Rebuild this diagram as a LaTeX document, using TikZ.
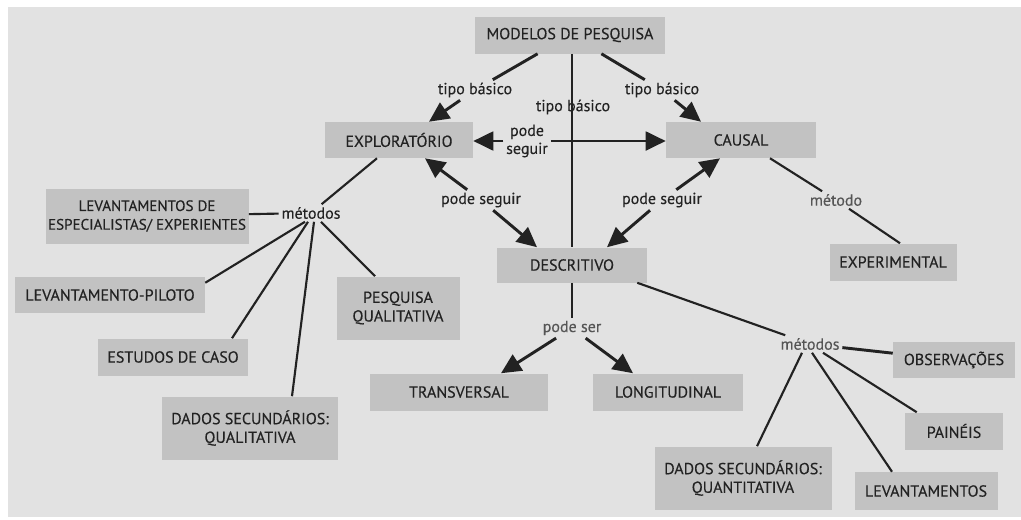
\documentclass[tikz,border=0pt]{standalone}
\usepackage{fontspec}
\setmainfont[FakeBold=0.3]{PT Sans}
\usetikzlibrary{arrows.meta,calc}
\definecolor{page}{HTML}{E2E2E2}
\definecolor{boxfill}{HTML}{C2C2C2}
\definecolor{ink}{HTML}{222222}
\definecolor{softink}{HTML}{555555}

\begin{document}
\begin{tikzpicture}[x=0.75pt,y=-0.75pt,
  concept/.style n args={2}{fill=boxfill, text=ink, align=center, inner sep=0pt,
    minimum width=#1*0.75pt, minimum height=#2*0.75pt,
    font=\fontsize{12}{14}\selectfont},
  linklabel/.style={text=ink, align=center, inner sep=2pt, font=\fontsize{12}{13.5}\selectfont},
  softlabel/.style={linklabel, text=softink},
  link/.style={draw=ink, line width=1.6pt},
  heavylink/.style={draw=ink, line width=2.2pt},
  arrowlink/.style={draw=ink, line width=2.2pt, -{Triangle[length=15pt,width=14pt]}},
]
% page
\fill[white] (0,0) rectangle (1021,519);
\fill[page] (8,7) rectangle (1021,517);
\useasboundingbox (0,0) rectangle (1021,519);

% concepts
\node[concept={190}{37}] (mod) at (570,35) {MODELOS DE PESQUISA};
\node[concept={148}{36}] (exp) at (399,140) {EXPLORATÓRIO};
\node[concept={150}{36}] (cau) at (741,140) {CAUSAL};
\node[concept={150}{35}] (des) at (572,265) {DESCRITIVO};
\node[concept={127}{37}] (expm) at (893,262) {EXPERIMENTAL};
\node[concept={203}{55}, font=\fontsize{11.3}{14}\selectfont] (lesp) at (147,216) {LEVANTAMENTOS DE\\ESPECIALISTAS/ EXPERIENTES};
\node[concept={190}{36}] (lpil) at (110,295) {LEVANTAMENTO-PILOTO};
\node[concept={150}{37}] (est) at (173,357) {ESTUDOS DE CASO};
\node[concept={176}{63}] (dsq) at (250,428) {DADOS SECUNDÁRIOS:\\QUALITATIVA};
\node[concept={123}{63}] (pq) at (398,308) {PESQUISA\\QUALITATIVA};
\node[concept={178}{37}] (tra) at (459,392) {TRANSVERSAL};
\node[concept={150}{37}] (lon) at (668,392) {LONGITUDINAL};
\node[concept={122}{36}] (obs) at (954,360) {OBSERVAÇÕES};
\node[concept={98}{37}] (pai) at (954,431) {PAINÉIS};
\node[concept={177}{63}] (dsqt) at (743,478) {DADOS SECUNDÁRIOS:\\QUANTITATIVA};
\node[concept={143}{38}] (lev) at (926,491) {LEVANTAMENTOS};

% linking phrases
\node[linklabel] (l1) at (475,90) {tipo básico};
\node[linklabel] (l2) at (573,107) {tipo básico};
\node[linklabel] (l3) at (662,90) {tipo básico};
\node[linklabel] (l4) at (527,141) {pode\\seguir};
\node[linklabel] (l5) at (481,200) {pode seguir};
\node[linklabel] (l6) at (662,200) {pode seguir};
\node[softlabel] (l7) at (836,200) {método};
\node[linklabel] (m1) at (311,213) {métodos};
\node[softlabel] (l8) at (572,328) {pode ser};
\node[softlabel] (m2) at (810,344) {métodos};

% basic types
\draw[heavylink] (mod) -- (l1);
\draw[arrowlink] (l1) -- ($(exp.north)+(30,0)$);
\draw[heavylink] (mod) -- (l3);
\draw[arrowlink] (l3) -- ($(cau.north)+(-40,0)$);
\draw[heavylink] (mod.south -| des.north) -- (des.north);

% sequences between designs
\draw[arrowlink] (l4) -- (l4 -| exp.east);
\draw[arrowlink] (l4) -- (l4 -| cau.west);
\draw[arrowlink] (l5) -- ($(exp.south)+(26,0)$);
\draw[arrowlink] (l5) -- ($(des.north)+(-35,0)$);
\draw[arrowlink] (l6) -- ($(cau.south)+(-21,0)$);
\draw[arrowlink] (l6) -- ($(des.north)+(35,0)$);

% causal method
\draw[link] ($(cau.south)+(29,0)$) -- (l7);
\draw[link] (l7) -- ($(expm.north)+(7,0)$);

% exploratory methods
\draw[link] ($(exp.south)+(-22,0)$) -- (m1);
\draw[link] (m1) -- (lesp);
\draw[link] ($(m1.south)+(-6,0)$) -- ($(lpil.north east)+(0,6)$);
\draw[link] ($(m1.south)+(-3,0)$) -- ($(est.north)+(59,0)$);
\draw[link] ($(m1.south)+(3,0)$) -- ($(dsq.north)+(42,0)$);
\draw[link] ($(m1.south)+(10,0)$) -- ($(pq.north)+(-23,0)$);

% descriptive: time frame
\draw[heavylink] (des) -- (l8);
\draw[arrowlink] (l8) -- ($(tra.north)+(42,0)$);
\draw[arrowlink] (l8) -- ($(lon.north)+(-35,0)$);

% descriptive methods
\draw[link] ($(des.south east)+(-10,0)$) -- (m2);
\draw[heavylink] (m2) -- (obs);
\draw[link] ($(m2.south)+(13,0)$) -- ($(pai.north west)+(12,0)$);
\draw[link] ($(m2.south)+(2,0)$) -- ($(lev.north)+(-34,0)$);
\draw[link] ($(m2.south)+(-8,0)$) -- ($(dsqt.north)+(14,0)$);
\end{tikzpicture}
\end{document}
